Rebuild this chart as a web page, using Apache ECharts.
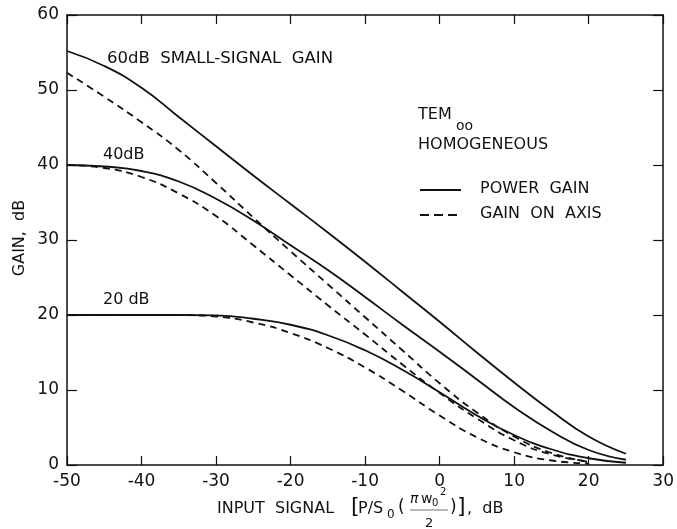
<!DOCTYPE html>
<html>
<head>
<meta charset="utf-8">
<script src="https://cdn.jsdelivr.net/npm/echarts@6/dist/echarts.min.js"></script>
<style>
html,body{margin:0;padding:0;background:#fff;}
#c{width:677px;height:529px;}
</style>
</head>
<body>
<div id="c"></div>
<script>
// Input signal (dB)
const xs = [-50,-45,-40,-35,-30,-25,-20,-15,-10,-5,0,5,10,15,20,25];
const xsAxis = [-50,-45,-40,-35,-30,-25,-20,-15,-10,-5,0,5,10,15,20];
// 60 dB small-signal gain
const power60 = [55.2,53.2,50.3,46.4,42.5,38.6,34.8,31.0,27.1,23.1,19.1,15.0,11.0,7.2,3.8,1.5];
const axis60  = [52.3,49.1,45.7,42.0,37.6,33.0,28.5,24.1,19.7,15.3,10.9,7.0,3.8,1.6,0.4];
// 40 dB small-signal gain
const power40 = [40.0,39.8,39.2,37.8,35.5,32.6,29.3,26.0,22.4,18.7,15.1,11.4,7.7,4.5,2.0,0.7];
const axis40  = [40.0,39.6,38.4,36.2,33.2,29.3,25.3,21.3,17.4,13.4,9.6,6.2,3.3,1.4,0.5];
// 20 dB small-signal gain
const power20 = [20.0,20.0,20.0,20.0,19.95,19.5,18.7,17.3,15.3,12.7,9.7,6.6,4.0,2.1,0.9,0.3];
const axis20  = [20.0,20.0,20.0,20.0,19.8,19.0,17.6,15.6,13.0,9.9,6.6,3.7,1.7,0.6,0.2];
const xTicks = [-50,-40,-30,-20,-10,0,10,20,30];
const yTicks = [0,10,20,30,40,50,60];

const FONT = '"DejaVu Sans", "Liberation Sans", sans-serif';
const INK = '#111';

function pairs(x, y){ return y.map((v,i)=>[x[i], v]); }
function curve(name, x, y, dash){
  return {name, type:'line', data:pairs(x,y), smooth:0.5,
    showSymbol:false, symbol:'none',
    lineStyle:{color:INK, width:1.8, type: dash ? [7,5] : 'solid'},
    xAxisIndex:0, yAxisIndex:0, z:3};
}

const chart = echarts.init(document.getElementById('c'), null, {renderer:'canvas'});
function yAxis(pos, showLabel){
  return {type:'value', position:pos, min:0, max:60, interval:10,
    axisLine:{show:true, onZero:false, lineStyle:{color:INK, width:1.5}},
    axisTick:{show:true, inside:true, length:10, lineStyle:{color:INK, width:1.2}},
    splitLine:{show:false},
    axisLabel: showLabel ? {color:INK, fontFamily:FONT, fontSize:17, margin:8,
        formatter:v=> yTicks.includes(v) ? String(v) : ''} : {show:false}};
}
function xAxis(pos, showLabel){
  return {type:'value', position:pos, min:-50, max:30, interval:10,
    axisLine:{show:true, onZero:false, lineStyle:{color:INK, width:1.5}},
    axisTick:{show:true, inside:true, length:9, lineStyle:{color:INK, width:1.2}},
    splitLine:{show:false},
    axisLabel: showLabel ? {color:INK, fontFamily:FONT, fontSize:17, margin:8,
        formatter:v=> xTicks.includes(v) ? (v<0 ? '-' + Math.abs(v) : String(v)) : ''} : {show:false}};
}
chart.setOption({
  animation:false,
  backgroundColor:'#fff',
  grid:{left:67, right:10, top:15, bottom:64, containLabel:false},
  xAxis:[xAxis('bottom', true), xAxis('top', false)],
  yAxis:[yAxis('left', true), yAxis('right', false)],
  series:[
    curve('60 dB power gain', xs, power60, false),
    curve('60 dB gain on axis', xsAxis, axis60, true),
    curve('40 dB power gain', xs, power40, false),
    curve('40 dB gain on axis', xsAxis, axis40, true),
    curve('20 dB power gain', xs, power20, false),
    curve('20 dB gain on axis', xsAxis, axis20, true)
  ],
  graphic:[
    // curve labels
    {type:'text', left:107, top:50, style:{text:'60dB  SMALL-SIGNAL  GAIN', font:'16.5px '+FONT, fill:INK}},
    {type:'text', left:103, top:147, style:{text:'40dB', font:'16px '+FONT, fill:INK}},
    {type:'text', left:103, top:292, style:{text:'20 dB', font:'16px '+FONT, fill:INK}},
    // mode annotation
    {type:'text', left:418, top:107, style:{text:'TEM', font:'16px '+FONT, fill:INK}},
    {type:'text', left:456, top:119, style:{text:'oo', font:'14px '+FONT, fill:INK}},
    {type:'text', left:418, top:137, style:{text:'HOMOGENEOUS', font:'16px '+FONT, fill:INK}},
    // legend
    {type:'line', shape:{x1:420, y1:190, x2:461, y2:190}, style:{stroke:INK, lineWidth:1.8}},
    {type:'text', left:480, top:181, style:{text:'POWER  GAIN', font:'16px '+FONT, fill:INK}},
    {type:'line', shape:{x1:420, y1:215, x2:461, y2:215}, style:{stroke:INK, lineWidth:1.8, lineDash:[9,5]}},
    {type:'text', left:480, top:206, style:{text:'GAIN  ON  AXIS', font:'16px '+FONT, fill:INK}},
    // y axis title
    {type:'text', x:20, y:238, rotation:Math.PI/2,
     style:{text:'GAIN,  dB', font:'16px '+FONT, fill:INK, align:'center', verticalAlign:'middle'}},
    // x axis title
    {type:'text', left:217, top:501, style:{text:'INPUT  SIGNAL', font:'16px '+FONT, fill:INK}},
    {type:'text', left:351, top:496, style:{text:'[', font:'22px '+FONT, fill:INK}},
    {type:'text', left:358, top:501, style:{text:'P/S', font:'16px '+FONT, fill:INK}},
    {type:'text', left:387, top:509, style:{text:'0', font:'12px '+FONT, fill:INK}},
    {type:'text', left:398, top:499, style:{text:'(', font:'17px '+FONT, fill:INK}},
    {type:'text', left:410, top:492, style:{text:'\u03c0', font:'italic 14px '+FONT, fill:INK}},
    {type:'text', left:421, top:492, style:{text:'w', font:'14px '+FONT, fill:INK}},
    {type:'text', left:432, top:498, style:{text:'0', font:'10px '+FONT, fill:INK}},
    {type:'text', left:440, top:487, style:{text:'2', font:'10px '+FONT, fill:INK}},
    {type:'line', shape:{x1:410, y1:510, x2:448, y2:510}, style:{stroke:INK, lineWidth:0.6}},
    {type:'text', left:425, top:517, style:{text:'2', font:'13px '+FONT, fill:INK}},
    {type:'text', left:450, top:499, style:{text:')', font:'17px '+FONT, fill:INK}},
    {type:'text', left:457, top:496, style:{text:']', font:'22px '+FONT, fill:INK}},
    {type:'text', left:467, top:501, style:{text:',  dB', font:'16px '+FONT, fill:INK}}
  ]
});
</script>
</body>
</html>
